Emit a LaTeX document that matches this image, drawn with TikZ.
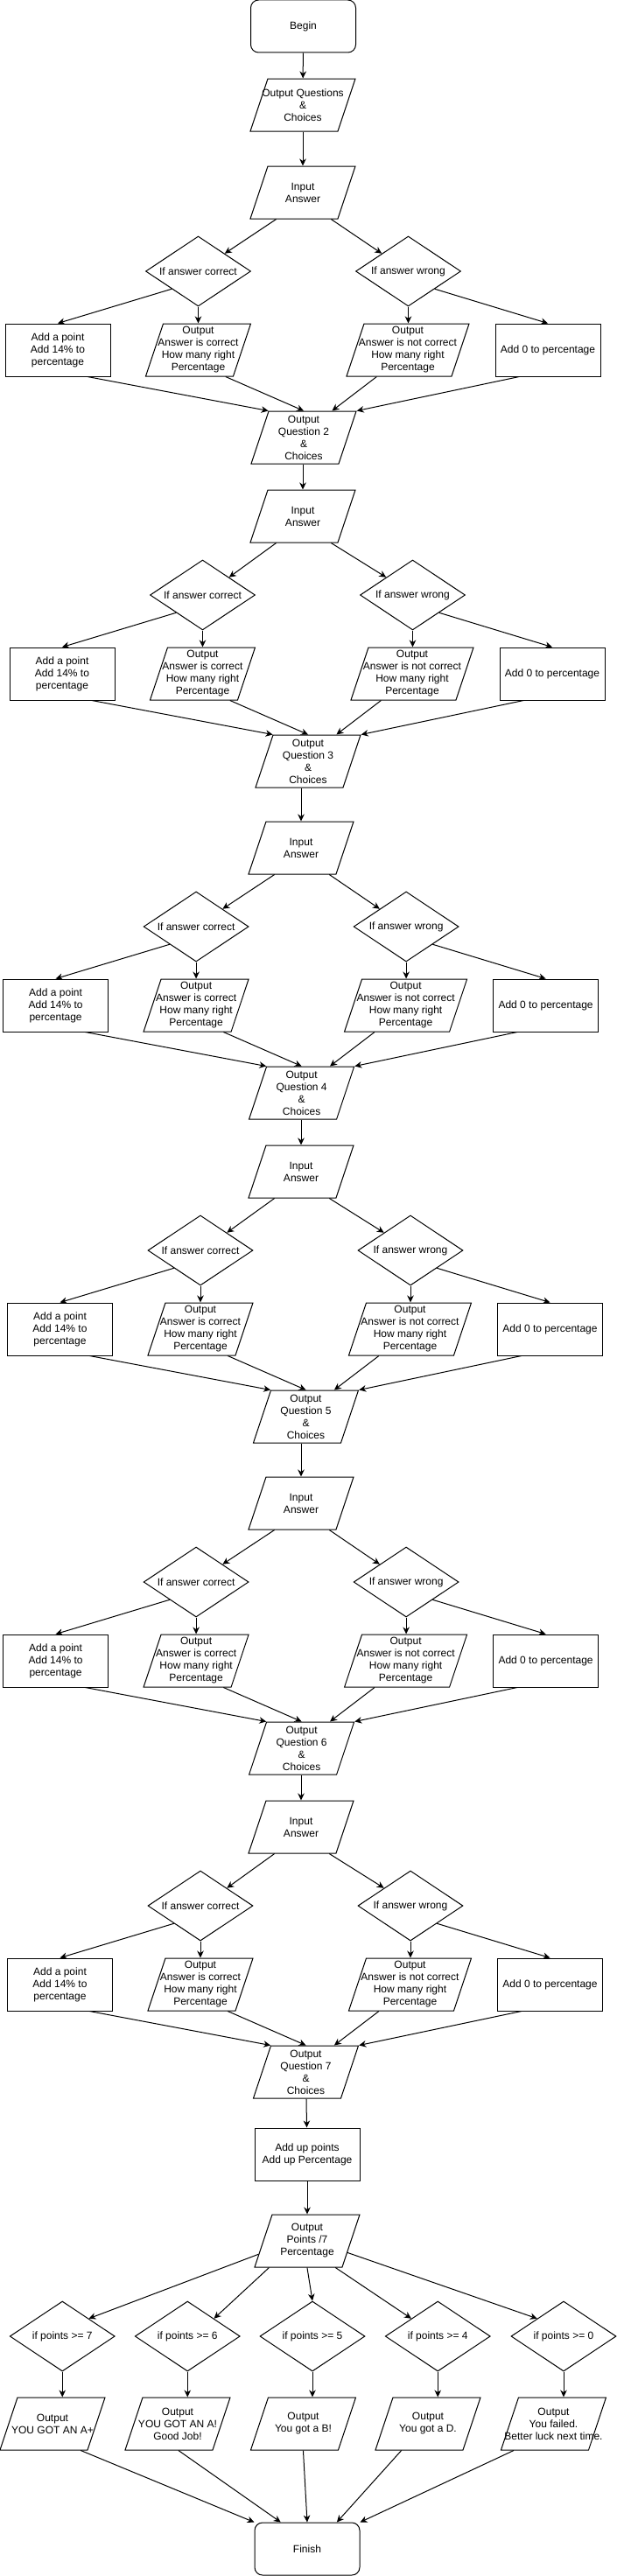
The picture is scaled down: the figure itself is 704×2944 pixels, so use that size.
\documentclass[tikz,border=0pt]{standalone}
\usepackage{fontspec}
\setmainfont{Liberation Sans}
\usetikzlibrary{calc}
\usetikzlibrary{shapes.geometric}
\usetikzlibrary{arrows.meta}

\begin{document}
\begin{tikzpicture}[x=1pt,y=-1pt,font=\fontsize{12}{14}\selectfont,line width=1pt,
	base/.style={draw,inner sep=0pt,align=center},
	term/.style={base,rectangle,rounded corners=9pt,minimum width=120pt,minimum height=60pt},
	proc/.style={base,rectangle,minimum width=120pt,minimum height=60pt},
	para/.style={base,trapezium,trapezium left angle=71.57,trapezium right angle=108.43,trapezium stretches body,inner ysep=30pt,minimum width=120pt,minimum height=60pt},
	dec/.style={base,diamond,aspect=1.5,minimum width=120pt,minimum height=80pt},
	txt/.style={align=center},
	arr/.style={-{Stealth[length=8pt,width=7.5pt,inset=2.5pt]}}]
		\useasboundingbox (0,0) rectangle (704,2944);
		\node[term] (begin) at (346.5,30) {Begin};
		\node[para,label={[txt]center:Output Questions\\\&\\Choices}] (q1) at (346,120) {};
		\draw[arr] (begin) -- (q1);
		% one block per question
		\foreach \n/\t/\l/\i in {1/190/6/286,2/560/11/286,3/939/3.6/284,4/1309/8.5/284,5/1688/3.6/284,6/2058/8.5/284}{
			\pgfmathtruncatemacro\m{\n+1}
			\node[para,label={[txt]center:Input\\Answer}] (in\n) at (\i+60,\t+30) {};
			\node[dec] (dc\n) at (\l+220.5,\t+120) {If answer correct};
			\node[dec] (dw\n) at (\l+460.5,\t+120) {If answer wrong};
			\node[proc] (ap\n) at (\l+60,\t+210) {Add a point\\Add 14\% to\\percentage};
			\node[para,label={[txt]center:Output\\Answer is correct\\How many right\\Percentage}] (oc\n) at (\l+220.5,\t+210) {};
			\node[para,minimum width=140pt,label={[txt]center:Output\\Answer is not correct\\How many right\\Percentage}] (ow\n) at (\l+460,\t+210) {};
			\node[proc] (az\n) at (\l+620,\t+210) {Add 0 to percentage};
			\node[para,label={[txt]center:Output\\Question \m\\\&\\Choices}] (q\m) at (\l+341,\t+310) {};
			\draw[arr] (in\n.north |- q\n.bottom left corner) -- (in\n.north |- in\n.top left corner);
			\draw[arr] ($(in\n.bottom left corner)!.3!(in\n.bottom right corner)$) -- (dc\n.north east);
			\draw[arr] ($(in\n.bottom left corner)!.92!(in\n.bottom right corner)$) -- (dw\n.north west);
			\draw[arr] (dc\n.south west) -- (ap\n.north);
			\draw[arr] (dc\n.south) -- (dc\n.south |- oc\n.top left corner);
			\draw[arr] (dw\n.south) -- (dw\n.south |- ow\n.top left corner);
			\draw[arr] (dw\n.south east) -- (az\n.north);
			\draw[arr] ($(ap\n.south west)!.78!(ap\n.south east)$) -- (q\m.top left corner);
			\draw[arr] ($(oc\n.bottom left corner)!.91!(oc\n.bottom right corner)$) -- ($(q\m.top left corner)!.4!(q\m.top right corner)$);
			\draw[arr] ($(ow\n.bottom left corner)!.29!(ow\n.bottom right corner)$) -- ($(q\m.top left corner)!.72!(q\m.top right corner)$);
			\draw[arr] ($(az\n.south west)!.23!(az\n.south east)$) -- (q\m.top right corner);
		}
		% grading
		\node[proc] (addup) at (351,2462) {Add up points\\Add up Percentage};
		\node[para,label={[txt]center:Output\\Points /7\\Percentage}] (op) at (351,2561) {};
		\node[dec] (p7) at (71.25,2670) {if points >= 7};
		\node[dec] (p6) at (214.25,2670) {if points >= 6};
		\node[dec] (p5) at (357,2670) {if points >= 5};
		\node[dec] (p4) at (500.25,2670) {if points >= 4};
		\node[dec] (p0) at (644,2670) {if points >= 0};
		\node[para,label={[txt]center:Output\\YOU GOT AN A+}] (r7) at (60,2770) {};
		\node[para,label={[txt]center:Output\\YOU GOT AN A!\\Good Job!}] (r6) at (203,2770) {};
		\node[para,label={[txt]center:Output\\You got a B!}] (r5) at (346.5,2770) {};
		\node[para,label={[txt]center:Output\\You got a D.}] (r4) at (489,2770) {};
		\node[para,label={[txt]center:Output\\You failed.\\Better luck next time.}] (r0) at (632.5,2770) {};
		\node[term] (fin) at (351,2913) {Finish};
		\draw[arr] (q7) -- (addup);
		\draw[arr] (addup) -- (op);
		\draw[arr] ($(op.top left corner)!.75!(op.bottom left corner)$) -- (p7.north east);
		\draw[arr] ($(op.bottom left corner)!.17!(op.bottom right corner)$) -- (p6.north east);
		\draw[arr] ($(op.bottom left corner)!.6!(op.bottom right corner)$) -- (p5.north);
		\draw[arr] ($(op.bottom left corner)!.92!(op.bottom right corner)$) -- (p4.north west);
		\draw[arr] ($(op.top right corner)!.72!(op.bottom right corner)$) -- (p0.north west);
		\foreach \k in {7,6,5,4,0}
			\draw[arr] (p\k.south) -- (p\k.south |- r\k.top left corner);
		\draw[arr] ($(r7.bottom left corner)!.92!(r7.bottom right corner)$) -- (fin.north west);
		\draw[arr] ($(r6.bottom left corner)!.61!(r6.bottom right corner)$) -- ($(fin.north west)!.25!(fin.north east)$);
		\draw[arr] ($(r5.bottom left corner)!.6!(r5.bottom right corner)$) -- (fin.north);
		\draw[arr] ($(r4.bottom left corner)!.3!(r4.bottom right corner)$) -- ($(fin.north west)!.78!(fin.north east)$);
		\draw[arr] ($(r0.bottom left corner)!.15!(r0.bottom right corner)$) -- (fin.north east);
	\end{tikzpicture}
\end{document}
